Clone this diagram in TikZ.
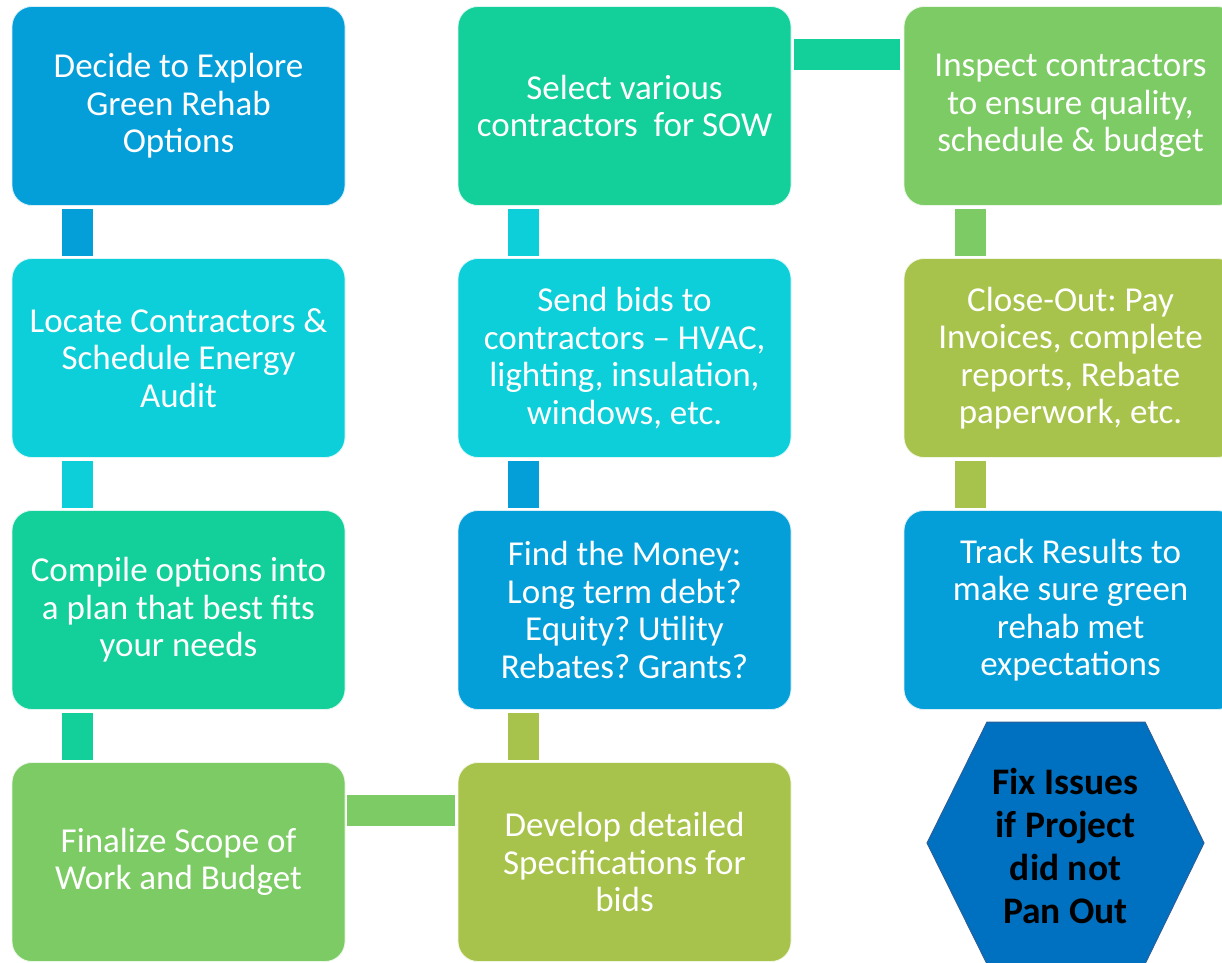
\documentclass[tikz,border=0pt]{standalone}
\usepackage{fontspec}
\setmainfont{Carlito}
\frenchspacing
\definecolor{cBlue}{HTML}{049ED8}
\definecolor{cCyan}{HTML}{0DCFD9}
\definecolor{cTeal}{HTML}{13CF9A}
\definecolor{cGreen}{HTML}{7DCB64}
\definecolor{cOlive}{HTML}{A8C34B}
\definecolor{cHex}{HTML}{0070C0}
\definecolor{cHexLine}{HTML}{2A5F99}
\begin{document}
\begin{tikzpicture}[x=1pt,y=-1pt,
  stage/.style={rounded corners=20pt, minimum width=333pt, minimum height=199pt,
    inner sep=0pt, align=center, text=white, draw=white!85!#1, line width=0.8pt,
    fill=#1, font=\fontsize{35}{37.5}\selectfont},
  link/.style={line width=31pt, draw=#1},
  hexlabel/.style={align=center, text=black, inner sep=0pt,
    font=\fontsize{37.5}{43}\selectfont\bfseries}]
\useasboundingbox (0,0) rectangle (1222,962);
\clip (0,0) rectangle (1222,962);

% first column
\node[stage=cBlue]  (a1) at (178.5,106) {Decide to Explore\\Green Rehab\\Options};
\node[stage=cCyan]  (a2) at (178.5,358) {Locate Contractors \&\\Schedule Energy\\Audit};
\node[stage=cTeal]  (a3) at (178.5,610) {Compile options into\\a plan that best fits\\your needs};
\node[stage=cGreen] (a4) at (178.5,862) {Finalize Scope of\\Work and Budget};

% second column
\node[stage=cTeal]  (b1) at (624.5,106) {Select various\\contractors\ \ for SOW};
\node[stage=cCyan]  (b2) at (624.5,358) {Send bids to\\contractors -- HVAC,\\lighting, insulation,\\windows, etc.};
\node[stage=cBlue]  (b3) at (624.5,610) {Find the Money:\\Long term debt?\\Equity? Utility\\Rebates? Grants?};
\node[stage=cOlive] (b4) at (624.5,862) {Develop detailed\\Specifications for\\bids};

% third column
\node[stage=cGreen] (c1) at (1070.5,106) {Inspect contractors\\to ensure quality,\\schedule \& budget};
\node[stage=cOlive] (c2) at (1070.5,358) {Close-Out: Pay\\Invoices, complete\\reports, Rebate\\paperwork, etc.};
\node[stage=cBlue]  (c3) at (1070.5,610) {Track Results to\\make sure green\\rehab met\\expectations};

% connectors, first column (downwards)
\draw[link=cBlue]  ([xshift=65.5pt,yshift=-3pt]a1.south west) -- ([xshift=65.5pt,yshift=2pt]a2.north west);
\draw[link=cCyan]  ([xshift=65.5pt,yshift=-3pt]a2.south west) -- ([xshift=65.5pt,yshift=2pt]a3.north west);
\draw[link=cTeal]  ([xshift=65.5pt,yshift=-3pt]a3.south west) -- ([xshift=65.5pt,yshift=2pt]a4.north west);
% across the bottom
\draw[link=cGreen] ([xshift=2pt,yshift=-48.5pt]a4.north east) -- ([xshift=-3pt,yshift=-48.5pt]b4.north west);
% second column (upwards)
\draw[link=cOlive] ([xshift=66pt,yshift=-3pt]b3.south west) -- ([xshift=66pt,yshift=2pt]b4.north west);
\draw[link=cBlue]  ([xshift=66pt,yshift=-3pt]b2.south west) -- ([xshift=66pt,yshift=2pt]b3.north west);
\draw[link=cCyan]  ([xshift=66pt,yshift=-3pt]b1.south west) -- ([xshift=66pt,yshift=2pt]b2.north west);
% across the top
\draw[link=cTeal]  ([xshift=3pt,yshift=-48.5pt]b1.north east) -- ([xshift=-4pt,yshift=-48.5pt]c1.north west);
% third column (downwards)
\draw[link=cGreen] ([xshift=66.5pt,yshift=-3pt]c1.south west) -- ([xshift=66.5pt,yshift=2pt]c2.north west);
\draw[link=cOlive] ([xshift=66.5pt,yshift=-3pt]c2.south west) -- ([xshift=66.5pt,yshift=2pt]c3.north west);

% closing hexagon
\draw[fill=cHex, draw=cHexLine, line width=1pt]
  (927,843) -- (987,722) -- (1145,722) -- (1204,843) -- (1145,964) -- (987,964) -- cycle;
\node[hexlabel] (fix) at (1065.5,846) {Fix Issues\\if Project\\did not\\Pan Out};
\end{tikzpicture}
\end{document}
